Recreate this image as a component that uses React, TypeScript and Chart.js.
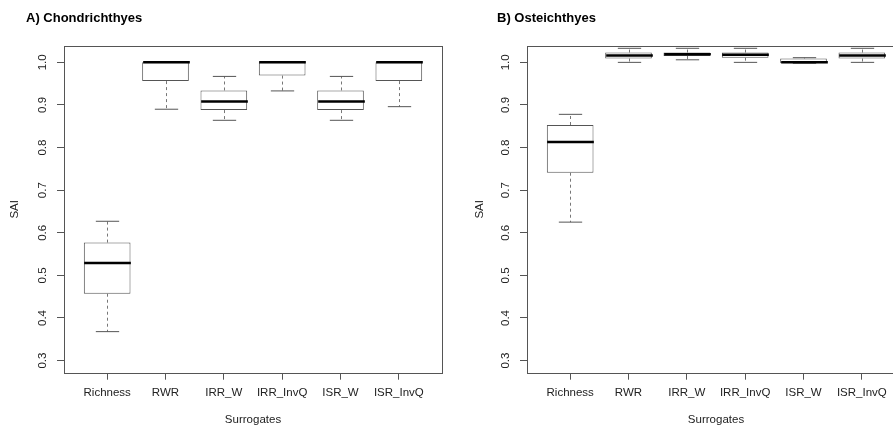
import React, { useEffect, useRef } from "react";
import { Chart, registerables } from "chart.js";

Chart.register(...registerables);

// ---- data ----
const categories = ["Richness", "RWR", "IRR_W", "IRR_InvQ", "ISR_W", "ISR_InvQ"];
const categoryPositions = [1, 2, 3, 4, 5, 6];
const yTickValues = [0.3, 0.4, 0.5, 0.6, 0.7, 0.8, 0.9, 1.0];
const yMin = 0.2716;
const yMax = 1.0384;
const xMin = 0.26;
const xMax = 6.74;

// A) Chondrichthyes
const chondLower = [0.368, 0.89, 0.864, 0.933, 0.864, 0.896];
const chondQ1 = [0.457, 0.956, 0.888, 0.969, 0.888, 0.956];
const chondMedian = [0.529, 1.0, 0.908, 1.0, 0.908, 1.0];
const chondQ3 = [0.577, 1.0, 0.934, 1.0, 0.934, 1.0];
const chondUpper = [0.627, 1.0, 0.967, 1.0, 0.967, 1.0];

// B) Osteichthyes
const osteLower = [0.625, 1.0, 1.006, 1.0, 0.998, 1.0];
const osteQ1 = [0.741, 1.009, 1.015, 1.011, 0.998, 1.009];
const osteMedian = [0.813, 1.016, 1.019, 1.018, 1.0, 1.016];
const osteQ3 = [0.853, 1.023, 1.023, 1.023, 1.009, 1.023];
const osteUpper = [0.878, 1.033, 1.033, 1.033, 1.011, 1.033];

const FONT = "'Liberation Sans', Arial, sans-serif";
const LINE = "#555";
const TEXT = "#222";

type PanelProps = {
  title: string;
  lower: number[];
  q1: number[];
  median: number[];
  q3: number[];
  upper: number[];
  padLeft: number;
  yTitlePad: number;
};

function BoxPanel(props: PanelProps) {
  const ref = useRef<HTMLCanvasElement>(null);
  useEffect(() => {
    const canvas = ref.current;
    if (!canvas) return;
    const { title, lower, q1, median, q3, upper, padLeft, yTitlePad } = props;

    const boxPlugin = {
      id: "boxWhiskers",
      afterDatasetsDraw(chart: any) {
        const { ctx, scales } = chart;
        const xs = scales.x;
        const ys = scales.y;
        const unit = xs.getPixelForValue(1) - xs.getPixelForValue(0);
        const capHalf = unit * 0.2;
        const boxHalf = unit * 0.4;
        ctx.save();
        categoryPositions.forEach((pos, i) => {
          const cx = Math.round(xs.getPixelForValue(pos)) + 0.5;
          const yU = ys.getPixelForValue(upper[i]);
          const yQ3 = ys.getPixelForValue(q3[i]);
          const yQ1 = ys.getPixelForValue(q1[i]);
          const yL = ys.getPixelForValue(lower[i]);
          const yM = ys.getPixelForValue(median[i]);
          // dashed whiskers
          ctx.strokeStyle = "#777";
          ctx.lineWidth = 1;
          ctx.setLineDash([3, 3]);
          ctx.beginPath();
          ctx.moveTo(cx, yQ3);
          ctx.lineTo(cx, yU);
          ctx.moveTo(cx, yQ1);
          ctx.lineTo(cx, yL);
          ctx.stroke();
          ctx.setLineDash([]);
          // caps
          ctx.strokeStyle = LINE;
          ctx.beginPath();
          ctx.moveTo(cx - capHalf, yU);
          ctx.lineTo(cx + capHalf, yU);
          ctx.moveTo(cx - capHalf, yL);
          ctx.lineTo(cx + capHalf, yL);
          ctx.stroke();
          // median
          ctx.strokeStyle = "#000";
          ctx.lineWidth = 2.5;
          ctx.beginPath();
          ctx.moveTo(cx - boxHalf, yM);
          ctx.lineTo(cx + boxHalf, yM);
          ctx.stroke();
        });
        ctx.restore();
      },
      afterDraw(chart: any) {
        const { ctx, chartArea } = chart;
        ctx.save();
        ctx.strokeStyle = LINE;
        ctx.lineWidth = 1;
        const l = Math.round(chartArea.left) + 0.5;
        const t = Math.round(chartArea.top) + 0.5;
        const r = Math.round(chartArea.right) + 0.5;
        const b = Math.round(chartArea.bottom) + 0.5;
        ctx.strokeRect(l, t, r - l, b - t);
        ctx.restore();
      },
    };

    const tickFont = { family: FONT, size: 11.5 };

    const chart = new Chart(canvas, {
      type: "bar",
      data: {
        datasets: [
          {
            data: categoryPositions.map((p, i) => ({ x: p, y: [q1[i], q3[i]] })) as any,
            backgroundColor: "#fff",
            borderColor: LINE,
            borderWidth: 1,
            borderSkipped: false,
            barPercentage: 0.8,
            categoryPercentage: 1,
            grouped: false,
          } as any,
        ],
      },
      options: {
        animation: false,
        responsive: false,
        maintainAspectRatio: false,
        layout: { padding: { left: padLeft, right: 8, top: 0, bottom: 0 } },
        plugins: {
          legend: { display: false },
          tooltip: { enabled: false },
          title: {
            display: true,
            text: title,
            align: "start",
            color: "#000",
            font: { family: FONT, size: 13, weight: "bold" },
            padding: { top: 10.5, bottom: 19.9 },
          },
        },
        scales: {
          x: {
            type: "linear",
            min: xMin,
            max: xMax,
            offset: false,
            afterBuildTicks: (s: any) => {
              s.ticks = categoryPositions.map((v) => ({ value: v }));
            },
            afterFit: (s: any) => {
              s.height = 54.3;
            },
            ticks: {
              autoSkip: false,
              maxRotation: 0,
              minRotation: 0,
              padding: 6,
              color: TEXT,
              font: tickFont,
              callback: (v: any) => {
                const idx = categoryPositions.indexOf(Number(v));
                return idx >= 0 ? categories[idx] : "";
              },
            },
            grid: { offset: false, drawOnChartArea: false, drawTicks: true, tickLength: 7, color: LINE, lineWidth: 1 },
            border: { display: false },
            title: {
              display: true,
              text: "Surrogates",
              color: TEXT,
              font: tickFont,
              padding: { top: 0, bottom: 0 },
            },
          } as any,
          y: {
            type: "linear",
            min: yMin,
            max: yMax,
            afterBuildTicks: (s: any) => {
              s.ticks = yTickValues.map((v) => ({ value: v }));
            },
            afterFit: (s: any) => {
              s.width = 64 - padLeft;
            },
            ticks: {
              minRotation: 90,
              maxRotation: 90,
              crossAlign: "center",
              padding: 6,
              color: TEXT,
              font: tickFont,
              callback: (v: any) => Number(v).toFixed(1),
            },
            grid: { drawOnChartArea: false, drawTicks: true, tickLength: 7, color: LINE, lineWidth: 1 },
            border: { display: false },
            title: {
              display: true,
              text: "SAI",
              color: TEXT,
              font: tickFont,
              padding: { top: yTitlePad, bottom: 0 },
            },
          } as any,
        },
      },
      plugins: [boxPlugin],
    });
    return () => chart.destroy();
  }, []);
  return <canvas ref={ref} width={450} height={427} style={{ display: "block", width: 450, height: 427 }} />;
}

export default function App() {
  return (
    <div
      style={{
        position: "fixed",
        left: 0,
        top: 0,
        width: 893,
        height: 427,
        overflow: "hidden",
        background: "#fff",
      }}
    >
      <div style={{ position: "absolute", left: 0, top: 0 }}>
        <BoxPanel
          title="A) Chondrichthyes"
          lower={chondLower}
          q1={chondQ1}
          median={chondMedian}
          q3={chondQ3}
          upper={chondUpper}
          padLeft={26}
          yTitlePad={-17.6}
        />
      </div>
      <div style={{ position: "absolute", left: 463, top: 0 }}>
        <BoxPanel
          title="B) Osteichthyes"
          lower={osteLower}
          q1={osteQ1}
          median={osteMedian}
          q3={osteQ3}
          upper={osteUpper}
          padLeft={34}
          yTitlePad={-24.4}
        />
      </div>
    </div>
  );
}
